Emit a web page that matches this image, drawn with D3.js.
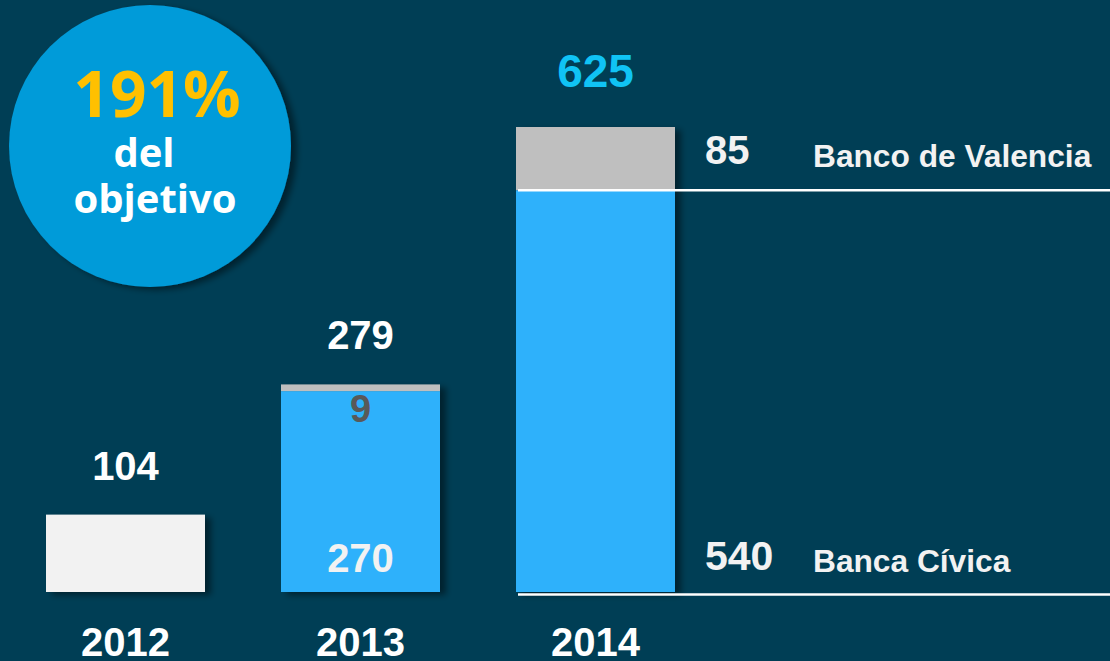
<!DOCTYPE html>
<html>
<head>
<meta charset="utf-8">
<script src="https://cdn.jsdelivr.net/npm/d3@7"></script>
<style>
  html, body { margin: 0; padding: 0; background: #003e55; }
  svg { display: block; }
</style>
</head>
<body>
<svg width="1110" height="661"></svg>
<script>
// values
const years = ['2012', '2013', '2014']
const previo = [104, 0, 0]        // 2012 bar (light)
const civica = [0, 270, 540]      // Banca Cívica
const valencia = [0, 9, 85]       // Banco de Valencia
const totals = years.map((y, i) => previo[i] + civica[i] + valencia[i])

const svg = d3.select('svg'),
    width = +svg.attr('width'),
    height = +svg.attr('height')

const defs = svg.append('defs')
const shadow = defs.append('filter').attr('id', 'shadow')
    .attr('x', '-10%').attr('y', '-10%').attr('width', '130%').attr('height', '130%')
shadow.append('feDropShadow')
    .attr('dx', 6).attr('dy', 3).attr('stdDeviation', 3)
    .attr('flood-color', '#000').attr('flood-opacity', 0.45)

// scales
const x = d3.scaleBand().domain(years).range([8, 713]).paddingInner(0.3234).paddingOuter(0.1617)
const y = d3.scaleLinear().domain([0, 625]).range([592, 127])

// stacked segments
const rows = years.map((yr, i) => ({ year: yr, previo: previo[i], civica: civica[i], valencia: valencia[i] }))
const stack = d3.stack().keys(['previo', 'civica', 'valencia'])(rows)
const colour = d3.scaleOrdinal().domain(['previo', 'civica', 'valencia']).range(['#f2f2f2', '#2eb1fb', '#bfbfbf'])

// draw the bars with shadow as a group
const barG = svg.append('g').attr('filter', 'url(#shadow)')
stack.forEach(series => {
    barG.selectAll(null)
        .data(series.filter(d => d[1] > d[0]))
        .enter()
        .append('rect')
        .attr('x', d => x(d.data.year))
        .attr('width', x.bandwidth())
        .attr('y', d => y(d[1]))
        .attr('height', d => y(d[0]) - y(d[1]))
        .attr('fill', colour(series.key))
})

// guide lines for 2014
const lineX0 = x('2014') + 2
svg.append('line')
    .attr('x1', lineX0).attr('x2', width)
    .attr('y1', y(civica[2])).attr('y2', y(civica[2]))
    .attr('stroke', '#fff').attr('stroke-width', 2.5)
svg.append('line')
    .attr('x1', lineX0).attr('x2', width)
    .attr('y1', y(0) + 2.5).attr('y2', y(0) + 2.5)
    .attr('stroke', '#fff').attr('stroke-width', 2.5)

const font = 'Liberation Sans, Arial, sans-serif'

// totals above bars
svg.selectAll('.total')
    .data(totals)
    .enter()
    .append('text')
    .attr('class', 'total')
    .attr('x', (d, i) => x(years[i]) + x.bandwidth() / 2)
    .attr('y', (d, i) => y(d) - (i === 2 ? 40 : 35))
    .attr('text-anchor', 'middle')
    .attr('font-family', font)
    .attr('font-weight', 'bold')
    .attr('font-size', (d, i) => i === 2 ? 46 : 40)
    .attr('fill', (d, i) => i === 2 ? '#10c3f5' : '#fff')
    .text(d => d)

// 2013 inner labels
const cx13 = x('2013') + x.bandwidth() / 2
svg.append('text')
    .attr('x', cx13).attr('y', y(0) - 20)
    .attr('text-anchor', 'middle')
    .attr('font-family', font).attr('font-weight', 'bold').attr('font-size', 40)
    .attr('fill', '#f2f2f2')
    .text(civica[1])
svg.append('text')
    .attr('x', cx13).attr('y', y(totals[1]) + 38)
    .attr('text-anchor', 'middle')
    .attr('font-family', font).attr('font-weight', 'bold').attr('font-size', 38)
    .attr('fill', '#595959')
    .text(valencia[1])

// 2014 side labels
const sideX = x('2014') + x.bandwidth() + 30
svg.append('text')
    .attr('x', sideX).attr('y', (y(civica[2]) + y(totals[2])) / 2 + 5)
    .attr('font-family', font).attr('font-weight', 'bold').attr('font-size', 40)
    .attr('fill', '#f2f2f2')
    .text(valencia[2])
svg.append('text')
    .attr('x', sideX).attr('y', y(0) - 22)
    .attr('font-family', font).attr('font-weight', 'bold').attr('font-size', 41)
    .attr('fill', '#f2f2f2')
    .text(civica[2])
svg.append('text')
    .attr('x', 813).attr('y', (y(civica[2]) + y(totals[2])) / 2 + 8)
    .attr('font-family', font).attr('font-weight', 'bold').attr('font-size', 31.7)
    .attr('fill', '#f2f2f2')
    .text('Banco de Valencia')
svg.append('text')
    .attr('x', 813).attr('y', y(0) - 20)
    .attr('font-family', font).attr('font-weight', 'bold').attr('font-size', 31.7)
    .attr('fill', '#f2f2f2')
    .text('Banca Cívica')

// year axis
svg.append('g')
    .attr('transform', 'translate(0,' + (y(0) + 64) + ')')
    .call(d3.axisBottom(x).tickSize(0).tickPadding(0))
    .call(g => g.select('.domain').remove())
    .call(g => g.selectAll('text')
        .attr('dy', 0)
        .attr('font-family', font).attr('font-weight', 'bold').attr('font-size', 40)
        .attr('fill', '#fff'))

// circle badge
const badge = svg.append('g').attr('transform', 'translate(150,146)')
badge.append('circle').attr('r', 141).attr('fill', '#009bd9').attr('filter', 'url(#shadow)')
badge.append('text')
    .attr('x', 7).attr('y', -29)
    .attr('text-anchor', 'middle')
    .attr('font-family', 'Open Sans, sans-serif').attr('font-weight', 'bold').attr('font-size', 64)
    .attr('fill', '#ffc000')
    .text('191%')
badge.append('text')
    .attr('x', -6).attr('y', 21)
    .attr('text-anchor', 'middle')
    .attr('font-family', 'Open Sans, sans-serif').attr('font-weight', 'bold').attr('font-size', 40)
    .attr('fill', '#fff')
    .text('del')
badge.append('text')
    .attr('x', 5).attr('y', 67)
    .attr('text-anchor', 'middle')
    .attr('font-family', 'Open Sans, sans-serif').attr('font-weight', 'bold').attr('font-size', 40)
    .attr('fill', '#fff')
    .text('objetivo')
</script>
</body>
</html>
